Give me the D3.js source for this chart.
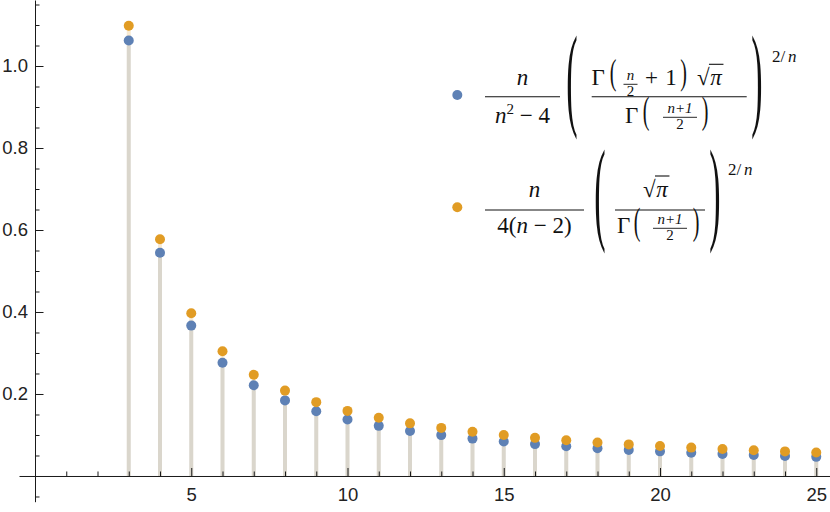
<!DOCTYPE html>
<html>
<head>
<meta charset="utf-8">
<script src="https://cdn.jsdelivr.net/npm/d3@7"></script>
<style>
  body { margin: 0; background: #fff; }
  .tick text { font-family: "Liberation Sans", Arial, sans-serif; font-size: 18.5px; fill: #222; }
</style>
</head>
<body>
<svg id="chart" width="830" height="512"></svg>
<script>
// values, n = 3..25
const nValues = [3, 4, 5, 6, 7, 8, 9, 10, 11, 12, 13, 14, 15, 16, 17, 18, 19, 20, 21, 22, 23, 24, 25];
const blueValues = [1.0624, 0.5443, 0.3668, 0.2763, 0.2213, 0.1844, 0.1579, 0.1379, 0.1223, 0.1099,
    0.0997, 0.0912, 0.0840, 0.0778, 0.0725, 0.0678, 0.0637, 0.0601, 0.0568, 0.0539, 0.0513, 0.0489, 0.0467];
const orangeValues = [1.0984, 0.5774, 0.3970, 0.3041, 0.2470, 0.2083, 0.1801, 0.1588, 0.1420, 0.1284,
    0.1173, 0.1079, 0.0999, 0.0930, 0.0870, 0.0818, 0.0771, 0.0730, 0.0692, 0.0659, 0.0628, 0.0600, 0.0575];

const xMajorTicks = [5, 10, 15, 20, 25];
const xMinorTicks = [1, 2, 3, 4, 6, 7, 8, 9, 11, 12, 13, 14, 16, 17, 18, 19, 21, 22, 23, 24];
const yMajorTicks = [0.2, 0.4, 0.6, 0.8, 1.0];
const yMinorTicks = [-0.05, 0.05, 0.1, 0.15, 0.25, 0.3, 0.35, 0.45, 0.5, 0.55, 0.65, 0.7, 0.75,
    0.85, 0.9, 0.95, 1.05, 1.1, 1.15];

const blue = '#5e81b5';
const orange = '#e19c24';
const mathFont = '"Liberation Serif", "DejaVu Serif", serif';

const svg = d3.select('#chart');

const x = d3.scaleLinear().domain([-0.512, 25.44]).range([19, 830]);
const y = d3.scaleLinear().domain([-0.0627, 1.161]).range([501.7, 0]);

const series = [
    { values: blueValues, color: blue },
    { values: orangeValues, color: orange }
];

// filling to the axis (stems), translucent like Filling -> Axis
const stems = svg.append('g');
[series[1], series[0]].forEach(s => {
    stems.selectAll(null)
        .data(nValues.map((n, i) => [n, s.values[i]]))
        .enter().append('line')
        .attr('x1', d => x(d[0]))
        .attr('x2', d => x(d[0]))
        .attr('y1', y(0))
        .attr('y2', d => y(d[1]))
        .attr('stroke', s.color)
        .attr('stroke-opacity', 0.2)
        .attr('stroke-width', 4);
});

// axes
function styleAxis(g) {
    g.selectAll('path.domain').attr('stroke', '#1a1a1a').attr('stroke-width', 1);
    g.selectAll('.tick line').attr('stroke', '#1a1a1a').attr('stroke-width', 1);
}

svg.append('g')
    .attr('transform', `translate(0, ${y(0)})`)
    .call(d3.axisBottom(x).tickValues(xMinorTicks).tickFormat('').tickSizeInner(-4.5).tickSizeOuter(0))
    .call(styleAxis);

svg.append('g')
    .attr('transform', `translate(0, ${y(0)})`)
    .call(d3.axisBottom(x).tickValues(xMajorTicks).tickFormat(d3.format('d')).tickSizeInner(-8).tickSizeOuter(0).tickPadding(12))
    .call(styleAxis)
    .call(g => g.select('path.domain').remove());

svg.append('g')
    .attr('transform', `translate(${x(0)}, 0)`)
    .call(d3.axisLeft(y).tickValues(yMinorTicks).tickFormat('').tickSizeInner(-4.5).tickSizeOuter(0))
    .call(styleAxis);

svg.append('g')
    .attr('transform', `translate(${x(0)}, 0)`)
    .call(d3.axisLeft(y).tickValues(yMajorTicks).tickFormat(d3.format('.1f')).tickSizeInner(-8.5).tickSizeOuter(0).tickPadding(7))
    .call(styleAxis)
    .call(g => g.select('path.domain').remove());

// points, blue first then orange on top
series.forEach(s => {
    svg.append('g').selectAll('circle')
        .data(nValues.map((n, i) => [n, s.values[i]]))
        .enter().append('circle')
        .attr('cx', d => x(d[0]))
        .attr('cy', d => y(d[1]))
        .attr('r', 5)
        .attr('fill', s.color);
});

// legend with typeset formulas
const legend = svg.append('g');

function t(str, px, py, size, opts = {}) {
    return legend.append('text')
        .attr('x', px).attr('y', py)
        .attr('font-family', mathFont)
        .attr('font-size', size)
        .attr('fill', '#111')
        .attr('text-anchor', opts.anchor || 'middle')
        .attr('font-style', opts.italic ? 'italic' : 'normal')
        .text(str);
}
function bar(x1, x2, py, w = 1.1) {
    legend.append('line').attr('x1', x1).attr('x2', x2).attr('y1', py).attr('y2', py)
        .attr('stroke', '#111').attr('stroke-width', w);
}
// stretched parenthesis centred on (cx, cy), h px tall
function paren(ch, cx, cy, h, f) {
    const s = h / (0.74 * f);
    legend.append('text')
        .attr('transform', `translate(${cx}, ${cy}) scale(1, ${s})`)
        .attr('x', 0).attr('y', 0.18 * f)
        .attr('font-family', mathFont)
        .attr('font-size', f)
        .attr('fill', '#111')
        .attr('text-anchor', 'middle')
        .text(ch);
}
function sqrtPi(left, base, size) {
    t('\u221a', left, base, size, { anchor: 'start' });
    t('\u03c0', left + size * 0.58, base, size, { anchor: 'start', italic: true });
    bar(left + size * 0.52, left + size * 1.15, base - size * 0.9, 1.1);
}
function smallFrac(num, den, cx, barY, halfW, size) {
    t(num, cx, barY - 4, size, { italic: true });
    bar(cx - halfW, cx + halfW, barY, 0.9);
    t(den, cx, barY + 12, size);
}

// entry 1
legend.append('circle').attr('cx', 457.3).attr('cy', 95).attr('r', 5).attr('fill', blue);
t('n', 522.5, 85, 23, { italic: true });
bar(485, 560, 96.7);
const den1 = t('', 522.5, 122.5, 23);
den1.append('tspan').attr('font-style', 'italic').text('n');
den1.append('tspan').attr('font-size', 15).attr('dy', -9).text('2');
den1.append('tspan').attr('dy', 9).text(' \u2212 4');
paren('(', 572, 95, 84, 34);
t('\u0393', 591.5, 85, 23, { anchor: 'start' });
paren('(', 613, 78, 26, 20);
smallFrac('n', '2', 630.5, 84.3, 7, 15);
t('+', 651.5, 85, 23);
t('1', 671, 85, 23);
paren(')', 683.5, 78, 26, 20);
sqrtPi(697, 85, 23);
bar(591.7, 746.7, 96.7);
t('\u0393', 625, 122.7, 23, { anchor: 'start' });
paren('(', 646, 116.5, 28, 20);
smallFrac('n+1', '2', 680, 117.3, 17, 15);
paren(')', 705, 116.5, 28, 20);
paren(')', 757, 95, 84, 34);
t('2/', 772, 61.7, 17, { anchor: 'start' });
t('n', 788, 61.7, 17, { anchor: 'start', italic: true });

// entry 2
legend.append('circle').attr('cx', 457.3).attr('cy', 207.3).attr('r', 5).attr('fill', orange);
t('n', 534.5, 196.7, 23, { italic: true });
bar(485, 584, 210);
const den2 = t('', 534.5, 233.3, 23);
den2.append('tspan').text('4(');
den2.append('tspan').attr('font-style', 'italic').text('n');
den2.append('tspan').text(' \u2212 2)');
paren('(', 600, 209, 84, 34);
sqrtPi(643, 196.7, 23);
bar(615, 705, 210);
t('\u0393', 617, 233, 23, { anchor: 'start' });
paren('(', 637, 227, 28, 20);
smallFrac('n+1', '2', 670, 228.3, 17, 15);
paren(')', 696, 227, 28, 20);
paren(')', 715, 209, 84, 34);
t('2/', 728, 175, 17, { anchor: 'start' });
t('n', 744, 175, 17, { anchor: 'start', italic: true });
</script>
</body>
</html>
